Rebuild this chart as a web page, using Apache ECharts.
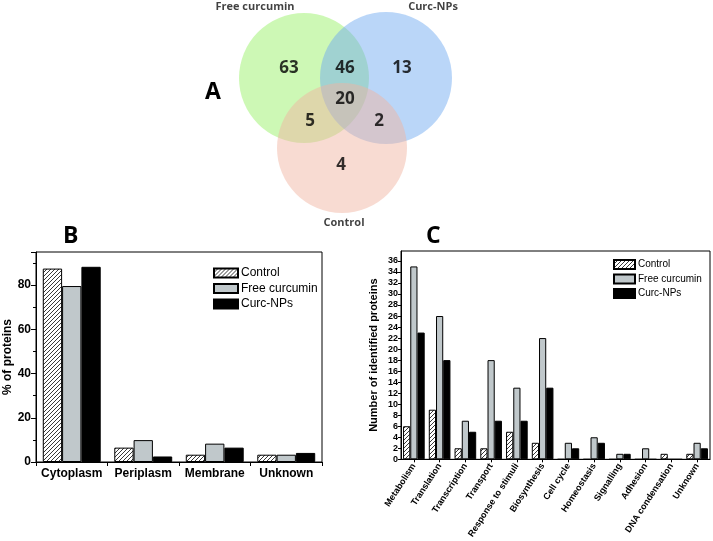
<!DOCTYPE html>
<html lang="en">
<head>
<meta charset="UTF-8">
<title>Curcumin proteomics</title>
<script src="https://cdn.jsdelivr.net/npm/echarts@6/dist/echarts.min.js"></script>
<style>
  html, body { margin: 0; padding: 0; background: #fff; }
  #main { width: 713px; height: 541px; }
</style>
</head>
<body>
<div id="main"></div>
<script>
// ---- data ----
var seriesNames = ['Control', 'Free curcumin', 'Curc-NPs'];

// panel A: venn counts
var vennRegions = ['Free only', 'Free+NPs', 'NPs only', 'All', 'Free+Control', 'NPs+Control', 'Control only'];
var vennCounts = [63, 46, 13, 20, 5, 2, 4];

// panel B: subcellular location (%)
var locCategories = ['Cytoplasm', 'Periplasm', 'Membrane', 'Unknown'];
var locControl = [87.5, 6.5, 3.3, 3.3];
var locFree = [79.6, 9.9, 8.3, 3.3];
var locNPs = [88.3, 2.5, 6.5, 4.1];

// panel C: biological function (counts)
var funcCategories = ['Metabolism', 'Translation', 'Transcription', 'Transport', 'Response to stimuli',
  'Biosynthesis', 'Cell cycle', 'Homeostasis', 'Signalling', 'Adhesion', 'DNA condensation', 'Unknown'];
var funcControl = [6, 9, 2, 2, 5, 3, 0, 0, 0, 0, 1, 1];
var funcFree = [35, 26, 7, 18, 13, 22, 3, 4, 1, 2, 0, 3];
var funcNPs = [23, 18, 5, 7, 7, 13, 2, 3, 1, 0, 0, 2];

// ---- venn layout (pixel space of the hidden grid) ----
var vennCircles = [
  { x: 304, y: 78, r: 65, color: 'rgba(150,240,100,0.6)', label: 'Free curcumin', lx: 255, ly: 7 },
  { x: 386, y: 78, r: 66, color: 'rgba(110,170,240,0.6)', label: 'Curc-NPs', lx: 433, ly: 7 },
  { x: 342, y: 148, r: 65, color: 'rgba(240,180,160,0.6)', label: 'Control', lx: 344, ly: 223 }
];
var vennLabelPos = [[289, 68], [345, 68], [402, 68], [345, 99], [310, 121], [379, 121], [341, 165]];

function hatch() {
  var c = document.createElement('canvas');
  c.width = 4; c.height = 4;
  var g = c.getContext('2d');
  g.fillStyle = '#fff';
  g.fillRect(0, 0, 4, 4);
  g.strokeStyle = '#222';
  g.lineWidth = 0.9;
  g.beginPath();
  g.moveTo(0, 4); g.lineTo(4, 0);
  g.moveTo(-1, 1); g.lineTo(1, -1);
  g.moveTo(3, 5); g.lineTo(5, 3);
  g.stroke();
  return c;
}

var fills = [{ image: hatch(), repeat: 'repeat' }, '#c0c8cb', '#000'];
var chartFont = 'Liberation Sans';

var myChart = echarts.init(document.getElementById('main'));

var series = [];
// venn circles
vennCircles.forEach(function (c, i) {
  series.push({
    type: 'scatter', xAxisIndex: 2, yAxisIndex: 2, silent: true, z: 1,
    symbol: 'circle', symbolSize: c.r * 2,
    itemStyle: { color: c.color },
    data: [[c.x, c.y]]
  });
  series.push({
    type: 'scatter', xAxisIndex: 2, yAxisIndex: 2, silent: true, z: 3,
    symbolSize: 0,
    label: { show: true, position: 'inside', formatter: c.label, color: '#111',
      fontFamily: 'Open Sans', fontWeight: 'bold', fontSize: 11 },
    data: [[c.lx, c.ly]]
  });
});
series.push({
  type: 'scatter', xAxisIndex: 2, yAxisIndex: 2, silent: true, z: 3,
  symbolSize: 0,
  label: { show: true, position: 'inside', color: '#000', fontFamily: 'Open Sans', fontWeight: 'bold', fontSize: 17,
    formatter: function (p) { return vennCounts[p.dataIndex]; } },
  data: vennLabelPos.map(function (p, i) { return { name: vennRegions[i], value: p }; })
});

// panel B
[locControl, locFree, locNPs].forEach(function (d, i) {
  series.push({
    name: seriesNames[i], type: 'bar', xAxisIndex: 0, yAxisIndex: 0,
    barGap: '0%', barCategoryGap: '19%',
    itemStyle: { color: fills[i], borderColor: '#000', borderWidth: 1 },
    data: d
  });
});
// panel C
[funcControl, funcFree, funcNPs].forEach(function (d, i) {
  series.push({
    name: seriesNames[i], type: 'bar', xAxisIndex: 1, yAxisIndex: 1,
    barGap: '0%', barCategoryGap: '16%',
    itemStyle: { color: fills[i], borderColor: '#000', borderWidth: 1 },
    data: d
  });
});

var option = {
  animation: false,
  backgroundColor: '#fff',
  title: [
    { text: 'A', left: 200, top: 76, textStyle: { fontFamily: 'Open Sans', fontWeight: 'bold', fontSize: 23, color: '#000' } },
    { text: 'B', left: 58, top: 220, textStyle: { fontFamily: 'Open Sans', fontWeight: 'bold', fontSize: 23, color: '#000' } },
    { text: 'C', left: 421, top: 220, textStyle: { fontFamily: 'Open Sans', fontWeight: 'bold', fontSize: 23, color: '#000' } }
  ],
  legend: [
    { data: seriesNames, orient: 'vertical', left: 213, top: 267, padding: 0, itemGap: 3.5,
      itemWidth: 24, itemHeight: 9, icon: 'rect', selectedMode: false,
      textStyle: { fontFamily: chartFont, fontSize: 12, color: '#000', padding: [0, 0, 0, -2] } },
    { data: seriesNames, orient: 'vertical', left: 613, top: 259, padding: 0, itemGap: 3.5,
      itemWidth: 21, itemHeight: 9, icon: 'rect', selectedMode: false,
      textStyle: { fontFamily: chartFont, fontSize: 10, color: '#000', padding: [0, 0, 0, -2] } }
  ],
  grid: [
    { left: 36, top: 252, width: 286, height: 210, show: true, borderColor: '#000', borderWidth: 1 },
    { left: 401, top: 251, width: 309, height: 212, show: true, borderColor: '#000', borderWidth: 1 },
    { left: 200, top: 0, width: 300, height: 230, show: false }
  ],
  xAxis: [
    { type: 'category', gridIndex: 0, data: locCategories,
      axisLine: { lineStyle: { color: '#000' } },
      axisTick: { show: true, length: 4, lineStyle: { color: '#000' } },
      axisLabel: { interval: 0, fontFamily: chartFont, fontWeight: 'bold', fontSize: 12, color: '#000', margin: 6 } },
    { type: 'category', gridIndex: 1, data: funcCategories,
      axisLine: { lineStyle: { color: '#000' } },
      axisTick: { show: true, alignWithLabel: true, length: 3, lineStyle: { color: '#000' } },
      axisLabel: { interval: 0, rotate: 57, fontFamily: chartFont, fontWeight: 'bold', fontSize: 9, color: '#000', margin: 5 } },
    { type: 'value', gridIndex: 2, min: 200, max: 500, show: false }
  ],
  yAxis: [
    { type: 'value', gridIndex: 0, min: 0, max: 95, interval: 20,
      name: '% of proteins', nameLocation: 'middle', nameGap: 22,
      nameTextStyle: { fontFamily: chartFont, fontWeight: 'bold', fontSize: 12, color: '#000' },
      axisLine: { show: true, lineStyle: { color: '#000' } },
      axisTick: { show: true, length: 5, lineStyle: { color: '#000' } },
      minorTick: { show: true, splitNumber: 2, length: 3, lineStyle: { color: '#000' } },
      splitLine: { show: false },
      axisLabel: { showMaxLabel: false, fontFamily: chartFont, fontWeight: 'bold', fontSize: 12, color: '#000', margin: 5 } },
    { type: 'value', gridIndex: 1, min: 0, max: 37.8, interval: 2,
      name: 'Number of identified proteins', nameLocation: 'middle', nameGap: 22,
      nameTextStyle: { fontFamily: chartFont, fontWeight: 'bold', fontSize: 11, color: '#000' },
      axisLine: { show: true, lineStyle: { color: '#000' } },
      axisTick: { show: true, length: 3, lineStyle: { color: '#000' } },
      splitLine: { show: false },
      axisLabel: { showMaxLabel: false, fontFamily: chartFont, fontWeight: 'bold', fontSize: 9, color: '#000', margin: 3 } },
    { type: 'value', gridIndex: 2, min: 0, max: 230, inverse: true, show: false }
  ],
  series: series
};

myChart.setOption(option);
</script>
</body>
</html>
